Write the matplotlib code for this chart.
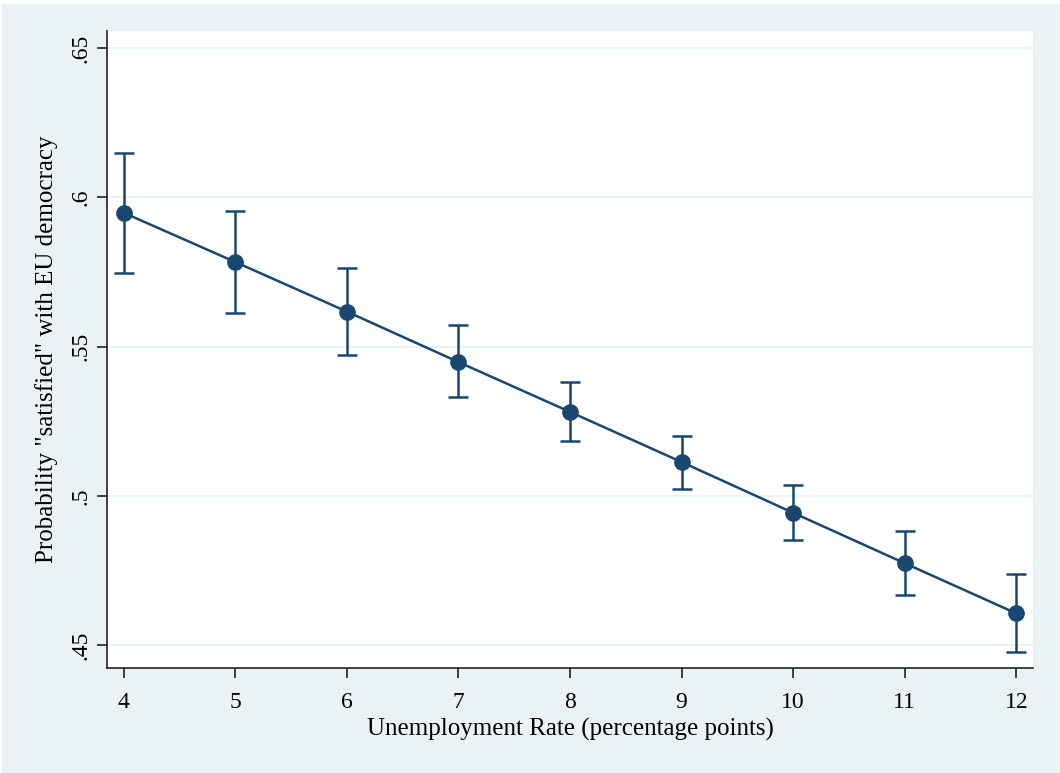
import matplotlib.pyplot as plt
from matplotlib.patches import Rectangle

# unemployment rate and predicted probability with 95% CI
unemp = [4, 5, 6, 7, 8, 9, 10, 11, 12]
prob = [0.5948, 0.5783, 0.5617, 0.5448, 0.5281, 0.5113, 0.4943, 0.4774, 0.4606]
ci_low = [0.5747, 0.5611, 0.5473, 0.5331, 0.5183, 0.5023, 0.4852, 0.4668, 0.4478]
ci_high = [0.6147, 0.5955, 0.5763, 0.5572, 0.5381, 0.5200, 0.5035, 0.4882, 0.4737]

yticks = [0.45, 0.5, 0.55, 0.6, 0.65]
ytick_labels = [".45", ".5", ".55", ".6", ".65"]

navy = "#1a476f"
bg = "#eaf2f3"

plt.rcParams['font.family'] = ['Liberation Serif', 'DejaVu Serif']

fig = plt.figure(figsize=(10.6, 7.73), dpi=100, facecolor="white")
# outer stata-ish background
fig.patches.append(Rectangle((2 / 1060, 0), 1 - 2 / 1060, 1 - 4 / 773,
                             transform=fig.transFigure, facecolor=bg,
                             edgecolor="none", zorder=-10))

ax = fig.add_axes([107 / 1060, 1 - 668 / 773, (1033 - 107) / 1060, (668 - 31) / 773])
ax.set_facecolor("white")

yerr = [[p - lo for p, lo in zip(prob, ci_low)], [hi - p for p, hi in zip(prob, ci_high)]]
ax.errorbar(unemp, prob, yerr=yerr, fmt="none", ecolor=navy, elinewidth=1.8,
            capsize=7, capthick=1.8, zorder=3)
ax.plot(unemp, prob, color=navy, linewidth=1.8, marker="o", markersize=11, zorder=4)

ax.set_xlim(3.85, 12.15)
ax.set_ylim(0.4423, 0.6557)
ax.set_xticks(unemp)
ax.set_yticks(yticks)
ax.set_yticklabels(ytick_labels, rotation=90, va="center")
ax.grid(axis="y", color=bg, linewidth=1.5)
ax.set_axisbelow(True)

for s in ["top", "right"]:
    ax.spines[s].set_visible(False)
for s in ["left", "bottom"]:
    ax.spines[s].set_linewidth(1.2)
    ax.spines[s].set_color("#222222")

ax.tick_params(axis="both", labelsize=17, length=7, width=1.2, color="#222222")
ax.tick_params(axis="y", pad=4)
ax.tick_params(axis="x", pad=10)

ax.set_xlabel("Unemployment Rate (percentage points)", fontsize=18, labelpad=4)
ax.set_ylabel('Probability "satisfied" with EU democracy', fontsize=18, labelpad=9)

fig.savefig("out.png", dpi=100, facecolor=fig.get_facecolor())
